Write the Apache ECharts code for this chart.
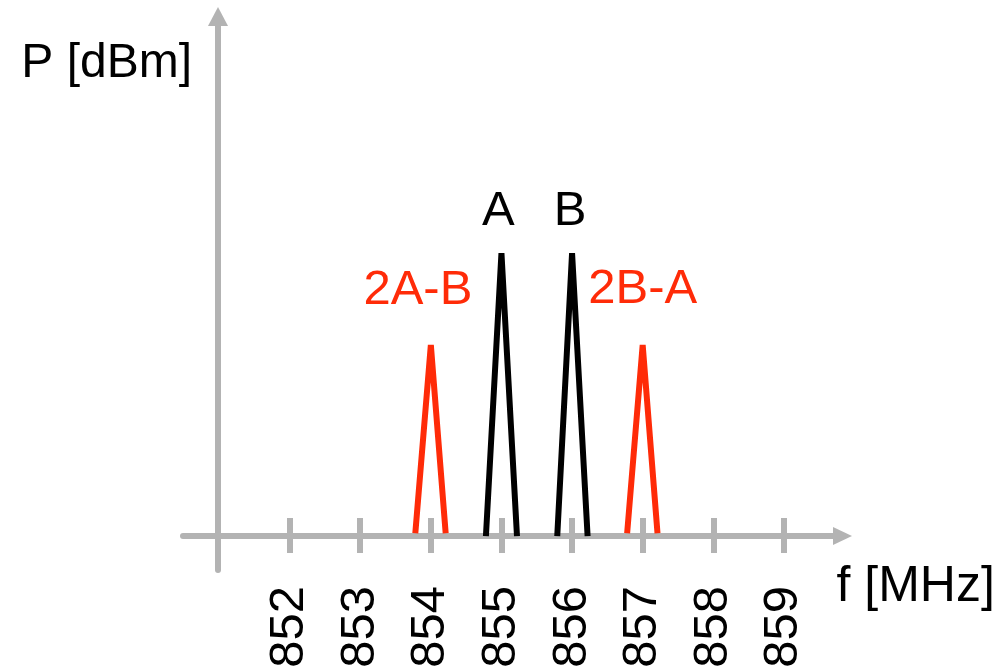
<!DOCTYPE html>
<html>
<head>
<meta charset="utf-8">
<script src="https://cdn.jsdelivr.net/npm/echarts@6/dist/echarts.min.js"></script>
<style>
  html, body { margin: 0; padding: 0; background: #fff; }
  #chart { width: 996px; height: 667px; }
</style>
</head>
<body>
<div id="chart"></div>
<script>
// tick labels on the frequency axis
var tickValues = [852, 853, 854, 855, 856, 857, 858, 859];

// the four spectral lines: name, centre frequency, peak level and base ends
var toneNames = ['2A-B', 'A', 'B', '2B-A'];
var peakFreq = [854, 855, 856, 857];
var peakLevel = [6.75, 10, 10, 6.75];
var baseLeft = [853.78, 854.78, 855.79, 856.78];
var baseRight = [854.21, 855.22, 856.22, 857.21];
var baseLevel = [0.1, 0, 0, 0.1];

var RED = '#ff2b08';
var GRAY = '#b3b3b3';
var FONT = "'Liberation Sans', Arial, sans-serif";
var toneColors = [RED, '#000000', '#000000', RED];
// label placement relative to each peak
var labelOffsetX = [-13, -3, -2, 0];
var labelDistance = [30, 17, 17, 31];

var series = [];
for (var i = 0; i < toneNames.length; i++) {
  series.push({
    name: toneNames[i],
    type: 'line',
    xAxisIndex: 0,
    symbol: 'circle',
    symbolSize: 0,
    showSymbol: true,
    silent: true,
    itemStyle: { color: toneColors[i] },
    lineStyle: { color: toneColors[i], width: 6, cap: 'butt', join: 'miter' },
    data: [
      [baseLeft[i], baseLevel[i]],
      {
        value: [peakFreq[i], peakLevel[i]],
        label: {
          show: true,
          position: 'top',
          distance: labelDistance[i],
          offset: [labelOffsetX[i], 0],
          formatter: toneNames[i],
          color: toneColors[i],
          fontSize: 49,
          fontFamily: FONT
        }
      },
      [baseRight[i], baseLevel[i]]
    ]
  });
}

var chart = echarts.init(document.getElementById('chart'), null, { renderer: 'canvas' });

var option = {
  animation: false,
  backgroundColor: '#ffffff',
  grid: {
    left: 183, right: 153.5, top: 16.5, bottom: 97,
    containLabel: false,
    outerBoundsMode: 'none'
  },
  xAxis: [
    {
      type: 'value',
      position: 'bottom',
      offset: -34,
      min: 850.49,
      max: 859.83,
      name: 'f [MHz]',
      nameLocation: 'end',
      nameGap: -6,
      nameTextStyle: {
        color: '#000', fontSize: 50, fontFamily: FONT,
        align: 'left', verticalAlign: 'top', padding: [26, 0, 0, 0]
      },
      axisLine: {
        show: true,
        onZero: false,
        symbol: ['none', 'triangle'],
        symbolSize: [18, 19],
        lineStyle: { color: GRAY, width: 6 }
      },
      axisTick: {
        show: true,
        inside: false,
        length: 17,
        customValues: tickValues,
        lineStyle: { color: GRAY, width: 6 }
      },
      axisLabel: {
        show: true,
        rotate: 90,
        margin: 50,
        customValues: tickValues,
        color: '#000',
        fontSize: 49,
        fontFamily: FONT
      },
      splitLine: { show: false }
    },
    {
      // upper half of the tick marks
      type: 'value',
      position: 'bottom',
      offset: -34,
      min: 850.49,
      max: 859.83,
      axisLine: { show: false, onZero: false },
      axisTick: {
        show: true,
        inside: true,
        length: 18,
        customValues: tickValues,
        lineStyle: { color: GRAY, width: 6 }
      },
      axisLabel: { show: false },
      splitLine: { show: false }
    }
  ],
  yAxis: {
    type: 'value',
    min: -1.2,
    max: 18.36,
    offset: -35,
    name: 'P [dBm]',
    nameLocation: 'end',
    nameGap: -23.5,
    nameTextStyle: {
      color: '#000', fontSize: 48, fontFamily: FONT,
      align: 'right', verticalAlign: 'top', padding: [0, 26, 0, 0]
    },
    axisLine: {
      show: true,
      onZero: false,
      symbol: ['none', 'triangle'],
      symbolSize: [20, 19],
      lineStyle: { color: GRAY, width: 6 }
    },
    axisTick: { show: false },
    axisLabel: { show: false },
    splitLine: { show: false }
  },
  series: series
};

chart.setOption(option);
</script>
</body>
</html>
